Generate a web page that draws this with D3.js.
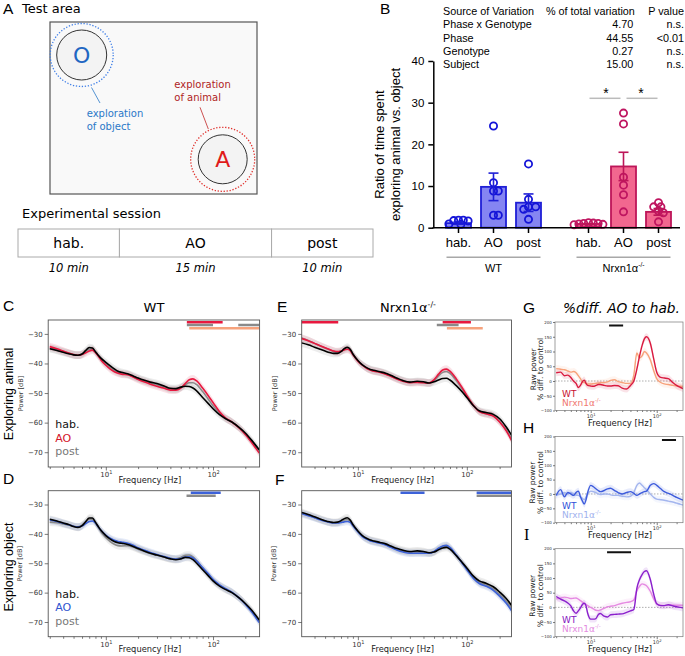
<!DOCTYPE html>
<html><head><meta charset="utf-8">
<script src="https://cdn.jsdelivr.net/npm/d3@7/dist/d3.min.js"></script>
<style>
html,body{margin:0;padding:0;background:#fff;}
svg{display:block;}
</style></head><body>
<svg id="fig" width="685" height="656" xmlns="http://www.w3.org/2000/svg"></svg>
<script>
// ---------------- DATA ----------------
// Panel A: session schedule
const sessionPhases = ["hab.", "AO", "post"];
const sessionMinutes = [10, 15, 10];

// Panel B: two-way RM ANOVA table
const anovaSources = ["Phase x Genotype", "Phase", "Genotype", "Subject"];
const anovaPct = ["4.70", "44.55", "0.27", "15.00"];
const anovaP = ["n.s.", "<0.01", "n.s.", "n.s."];

// Panel B: ratio of time exploring animal vs object
const phases = ["hab.", "AO", "post"];
const genotypes = ["WT", "KO"];
const wtMean = [1.1, 9.8, 6.0];
const wtSem = [0.3, 3.3, 2.1];
const koMean = [0.9, 14.7, 3.8];
const koSem = [0.1, 3.4, 0.8];
const wtPoints = [[1.8, 1.8, 1.7, 1.6, 0.9, 0.8], [24.4, 8.8, 8.8, 3.0, 3.0, 10.8], [15.3, 6.8, 5.0, 5.0, 4.4, 2.0]];
const koPoints = [[1.2, 1.1, 1.0, 1.0, 0.9, 0.8, 0.7], [27.5, 24.9, 12.1, 10.2, 7.9, 3.8], [6.0, 5.0, 5.0, 4.0, 3.6, 1.4]];
const yTicksB = [0, 10, 20, 30, 40];

// Panels C-I: frequency grid (Hz)
const freqs = [3,3.5,4,4.5,5,5.5,6,6.5,7,7.5, 8,8.5,9,10,11,12,13,14,16,18, 20,23,26,30,35,40,45,50,55,60, 65,70,80,90,100,115,130,150,175,200, 230,270];

// C: WT, exploring animal (power dB)
const cHab  = [-35.0,-35.6,-36.2,-36.7,-37.1,-37.2,-36.8,-35.6,-34.6,-34.8, -36.0,-37.2,-38.2,-39.6,-40.8,-41.8,-42.6,-43.0,-43.5,-44.2, -44.9,-45.7,-46.3,-46.8,-47.6,-48.4,-48.5,-48.0,-47.7,-47.8, -48.3,-49.2,-51.5,-53.5,-55.3,-57.3,-58.6,-59.8,-61.6,-63.5, -66.0,-69.2];
const cAO   = [-34.3,-35.0,-35.8,-36.5,-37.0,-37.2,-37.0,-36.4,-35.8,-35.5, -36.3,-37.5,-38.8,-40.6,-41.9,-42.8,-43.3,-43.6,-43.8,-44.6, -45.4,-46.3,-47.0,-47.7,-48.4,-49.0,-49.0,-48.3,-46.8,-45.5, -45.2,-45.8,-48.3,-50.8,-53.2,-56.3,-58.3,-59.8,-61.8,-64.0, -66.8,-70.3];
const cPost = [-34.8,-35.4,-36.0,-36.5,-37.0,-37.2,-36.9,-36.0,-35.2,-35.1, -36.0,-37.3,-38.5,-40.2,-41.4,-42.4,-43.0,-43.4,-43.7,-44.4, -45.1,-45.9,-46.6,-47.2,-48.0,-48.7,-48.8,-48.2,-47.2,-46.5, -46.5,-47.1,-49.5,-52.0,-54.3,-56.9,-58.5,-59.8,-61.7,-63.8, -66.4,-69.8];
// E: Nrxn1a-/-, exploring animal
const eHab  = [-33.0,-33.7,-34.5,-35.2,-35.8,-36.3,-36.6,-36.6,-36.0,-35.0, -34.5,-35.2,-36.8,-39.0,-40.5,-41.4,-42.0,-42.3,-42.8,-43.3, -44.0,-45.0,-45.8,-46.3,-46.0,-46.2,-46.6,-46.2,-45.6,-45.1, -45.0,-45.6,-47.5,-49.5,-51.5,-54.3,-56.0,-56.6,-57.2,-58.7, -61.5,-65.5];
const eAO   = [-31.5,-32.3,-33.2,-34.0,-34.7,-35.3,-35.8,-36.0,-35.8,-35.4, -35.2,-35.7,-37.0,-39.2,-40.6,-41.6,-42.2,-42.6,-43.0,-43.6, -44.3,-45.3,-46.0,-46.5,-46.4,-46.5,-46.6,-45.5,-43.6,-42.2, -41.9,-42.6,-45.2,-48.0,-50.8,-54.2,-56.3,-57.0,-57.8,-59.8, -62.8,-67.5];
const ePost = [-31.3,-32.2,-33.2,-34.0,-34.8,-35.4,-35.9,-36.1,-35.8,-35.3, -35.0,-35.5,-36.9,-39.1,-40.5,-41.5,-42.1,-42.5,-42.9,-43.5, -44.2,-45.2,-45.9,-46.4,-46.2,-46.4,-46.6,-45.8,-44.2,-43.0, -42.7,-43.3,-45.8,-48.5,-51.0,-54.2,-56.2,-57.0,-57.7,-59.6, -62.5,-67.0];
// D: WT, exploring object
const dHab  = [-35.0,-35.6,-36.3,-36.8,-37.5,-37.8,-37.2,-35.8,-34.6,-34.6, -36.0,-37.5,-38.8,-40.6,-41.8,-42.6,-43.0,-43.2,-43.6,-44.3, -45.0,-45.9,-46.6,-47.2,-47.9,-48.5,-48.8,-48.5,-48.0,-48.1, -48.8,-49.9,-52.2,-54.2,-56.0,-57.8,-58.9,-60.0,-61.8,-63.7, -66.0,-69.3];
const dAO   = [-35.3,-35.8,-36.4,-36.9,-37.4,-37.6,-37.3,-36.5,-35.8,-35.6, -36.3,-37.6,-38.8,-40.4,-41.5,-42.2,-42.6,-42.8,-43.2,-43.9, -44.7,-45.6,-46.3,-47.0,-47.7,-48.3,-48.6,-48.4,-47.9,-47.8, -48.2,-49.2,-51.5,-53.5,-55.5,-57.4,-58.6,-59.8,-61.8,-63.9, -66.6,-70.2];
const dPost = [-36.0,-36.2,-36.6,-37.0,-37.5,-37.7,-37.0,-35.9,-35.0,-35.0, -36.3,-37.8,-39.3,-41.2,-42.6,-43.5,-44.0,-44.1,-44.0,-44.5, -45.2,-46.0,-46.7,-47.3,-47.9,-48.4,-48.5,-48.0,-47.3,-47.2, -47.8,-49.0,-51.6,-53.8,-55.7,-57.5,-58.7,-59.9,-61.7,-63.7, -66.3,-69.8];
// F: Nrxn1a-/-, exploring object
const fHab  = [-32.6,-33.4,-34.2,-34.9,-35.5,-35.9,-36.1,-36.0,-35.5,-34.8, -34.5,-35.3,-36.8,-39.0,-40.6,-41.5,-42.1,-42.4,-42.9,-43.4, -44.1,-45.0,-45.6,-46.0,-45.8,-46.0,-46.4,-46.2,-45.4,-44.8, -44.6,-45.2,-47.4,-49.6,-51.6,-54.4,-56.0,-56.8,-58.0,-59.8, -62.0,-65.5];
const fAO   = [-33.0,-33.8,-34.5,-35.2,-35.7,-36.1,-36.3,-36.3,-36.1,-35.9, -35.8,-36.1,-37.2,-39.3,-40.9,-41.8,-42.4,-42.7,-43.2,-43.8, -44.6,-45.6,-46.2,-46.6,-46.6,-46.6,-46.6,-46.0,-44.9,-44.1, -43.9,-44.6,-47.2,-49.8,-52.2,-55.2,-56.9,-57.8,-59.2,-61.2, -63.6,-67.3];
const fPost = [-32.8,-33.6,-34.4,-35.0,-35.6,-36.0,-36.2,-36.2,-35.8,-35.3, -35.1,-35.7,-37.0,-39.1,-40.7,-41.6,-42.2,-42.5,-43.0,-43.6, -44.3,-45.3,-45.9,-46.3,-46.2,-46.3,-46.5,-46.1,-45.0,-44.3, -44.1,-44.8,-47.3,-49.7,-51.9,-54.8,-56.5,-57.4,-58.7,-60.6, -62.9,-66.6];
// G-I: % difference to hab.
const gWT = [28,30,18,20,12,0,-8,-22,-15,-2, 3,-8,-15,-17,-18,-15,-12,-12,-15,-17, -17,-15,-16,-24,-27,-15,0,40,85,120, 143,150,128,75,30,12,10,8,-5,-15, -22,-28];
const gKO = [42,40,38,34,30,32,28,18,8,-3, -5,-8,-10,-10,-9,-8,-7,-6,-5,-3, 2,4,-2,-5,-8,-8,20,95,78,85, 100,95,72,35,8,-5,-10,-12,-15,-17, -18,-19];
const hWT = [-5,15,-10,5,0,-5,5,10,-10,-25, -35,-20,5,30,25,18,12,8,12,18, 20,12,5,0,5,8,2,-5,0,5, 8,10,30,36,30,18,8,2,-5,-12, -18,-24];
const hKO = [-5,0,5,0,5,0,-5,-5,-10,-15, -20,-10,0,10,8,5,0,-2,0,0, -3,-5,-5,-8,-10,-8,5,30,38,30, 22,15,0,-12,-18,-20,-22,-25,-28,-32, -36,-40];
const iWT = [37,28,22,15,5,-12,-20,-12,-2,10, 14,5,-20,-40,-40,-38,-25,-21,-30,-33, -25,-24,-23,-22,-17,-12,-7,65,95,112, 122,125,95,45,12,6,6,9,5,2, 0,-3];
const iKO = [29,32,35,33,30,31,32,28,23,18, 13,10,6,0,-5,-10,-11,-9,-3,2, 4,6,10,14,17,19,25,57,72,80, 78,74,55,29,12,7,6,8,8,7, 7,6];

// significance ranges (Hz)
const sigC_AO = [[57, 123]], sigC_post = [[57, 100], [172, 272]], sigC_AOpost = [[60, 272]];
const sigE_AO = [[3, 6.6], [60, 109]], sigE_post = [[53, 84]], sigE_AOpost = [[65.6, 140]];
const sigD_AO = [[62, 118]], sigD_post = [[56.6, 106]];
const sigF_AO = [[24.6, 40.9], [123, 272]], sigF_post = [[123, 272]];
const sigG = [[19, 31]], sigH = [[120, 196]], sigI = [[17.7, 40.8]];

const psdTicksY = [-30, -40, -50, -60, -70];
const diffTicksY = [200, 150, 100, 50, 0, -50, -100];

// ---------------- DRAWING ----------------
const DV = "'DejaVu Sans', Verdana, sans-serif";
const AR = "'Liberation Sans', Arial, Helvetica, sans-serif";
const SERIF = "'Liberation Serif', 'DejaVu Serif', serif";
const svg = d3.select("#fig");
const defs = svg.append("defs");
let clipN = 0;

function txt(g, x, y, s, size, o = {}) {
  const t = g.append("text").attr("x", x).attr("y", y).attr("font-size", size)
    .attr("font-family", o.family || DV).attr("fill", o.fill || "#000")
    .attr("text-anchor", o.anchor || "start");
  if (o.italic) t.attr("font-style", "italic");
  if (o.rotate) t.attr("transform", `rotate(-90,${x},${y})`);
  t.text(s);
  return t;
}
function koLabel(g, x, y, size, o = {}) {
  const t = txt(g, x, y, "Nrxn1α", size, o);
  t.append("tspan").attr("dy", -size * 0.42).attr("font-size", size * 0.6).text("-/-");
  return t;
}

// ===== Panel A =====
const gA = svg.append("g");
txt(gA, 3, 13.5, "A", 15.5, {family: AR});
txt(gA, 22, 13, "Test area", 13);
gA.append("rect").attr("x", 50).attr("y", 22).attr("width", 207).attr("height", 172)
  .attr("fill", "#f9f9f9").attr("stroke", "#555").attr("stroke-width", 1.2);
gA.append("circle").attr("cx", 81.7).attr("cy", 55).attr("r", 25).attr("fill", "#f3f3f3").attr("stroke", "#333").attr("stroke-width", 1);
gA.append("circle").attr("cx", 81.7).attr("cy", 55).attr("r", 31.5).attr("fill", "none").attr("stroke", "#3f7fe8").attr("stroke-width", 1.3).attr("stroke-dasharray", "1.3,1.7");
txt(gA, 81.7, 63, "O", 22, {anchor: "middle", fill: "#1f66c2"});
gA.append("line").attr("x1", 91.5).attr("y1", 87.5).attr("x2", 100).attr("y2", 103).attr("stroke", "#2a78c8").attr("stroke-width", 0.8);
txt(gA, 86.7, 117.3, "exploration", 10, {fill: "#2a78c8"});
txt(gA, 86.7, 130, "of object", 10, {fill: "#2a78c8"});
gA.append("circle").attr("cx", 222.7).attr("cy", 159.3).attr("r", 24.5).attr("fill", "#f3f3f3").attr("stroke", "#333").attr("stroke-width", 1);
gA.append("circle").attr("cx", 222.7).attr("cy", 159.3).attr("r", 32).attr("fill", "none").attr("stroke", "#e0302c").attr("stroke-width", 1.3).attr("stroke-dasharray", "1.3,1.7");
txt(gA, 222.7, 167.3, "A", 22, {anchor: "middle", fill: "#e01a1a"});
gA.append("line").attr("x1", 200).attr("y1", 107.3).attr("x2", 208.3).attr("y2", 129).attr("stroke", "#c02626").attr("stroke-width", 0.8);
txt(gA, 174.3, 88.3, "exploration", 10, {fill: "#b01e1e"});
txt(gA, 174.3, 100.7, "of animal", 10, {fill: "#b01e1e"});
txt(gA, 22, 218, "Experimental session", 13);
const xs = d3.scaleLinear().domain([0, d3.sum(sessionMinutes)]).range([18, 373]);
const cum = d3.cumsum(sessionMinutes);
sessionPhases.forEach((p, i) => {
  const s = i ? cum[i - 1] : 0, e = cum[i];
  gA.append("rect").attr("x", xs(s)).attr("y", 229).attr("width", xs(e) - xs(s)).attr("height", 28)
    .attr("fill", "#fff").attr("stroke", "#aaa").attr("stroke-width", 1);
  txt(gA, (xs(s) + xs(e)) / 2, 248, p, 14, {anchor: "middle"});
  txt(gA, (xs(s) + xs(e)) / 2, 272, sessionMinutes[i] + " min", 11.5, {anchor: "middle", italic: true});
});

// ===== Panel B =====
const gB = svg.append("g");
txt(gB, 380, 13.5, "B", 15.5, {family: AR});
const tf = 10.8;
txt(gB, 443, 15, "Source of Variation", tf, {family: AR});
txt(gB, 546, 15, "% of total variation", tf, {family: AR});
txt(gB, 684, 15, "P value", tf, {family: AR, anchor: "end"});
anovaSources.forEach((s, i) => {
  const y = 28.3 + i * 13.35;
  txt(gB, 443, y, s, tf, {family: AR});
  txt(gB, 633.3, y, anovaPct[i], tf, {family: AR, anchor: "end"});
  txt(gB, 684, y, anovaP[i], tf, {family: AR, anchor: "end"});
});
const yB = d3.scaleLinear().domain([0, 40]).range([227.7, 61]);
const xG = d3.scalePoint().domain(genotypes).range([493.5, 623.5]);
const xP = d3.scalePoint().domain(phases).range([-35, 35]);
const barW = 25;
const bStyle = {
  WT: {fill: "#8585f2", stroke: "#1f1fd6", pt: "#1414d8"},
  KO: {fill: "#f2678f", stroke: "#bd1659", pt: "#bf1560"}
};
const bData = {WT: {m: wtMean, s: wtSem, p: wtPoints}, KO: {m: koMean, s: koSem, p: koPoints}};
genotypes.forEach(gn => {
  const st = bStyle[gn], dd = bData[gn];
  phases.forEach((ph, i) => {
    const cx = xG(gn) + xP(ph);
    gB.append("rect").attr("x", cx - barW / 2).attr("y", yB(dd.m[i])).attr("width", barW)
      .attr("height", yB(0) - yB(dd.m[i])).attr("fill", st.fill).attr("stroke", st.stroke).attr("stroke-width", 1.8);
  });
});
function swarm(vals, cx) {
  const D = 4.8, placed = [];
  const order = vals.map((v, i) => i).sort((a, b) => vals[b] - vals[a]);
  order.forEach(i => {
    const py = yB(vals[i]);
    for (let k = 0; k < 40; k++) {
      const off = (k % 2 ? 1 : -1) * Math.ceil(k / 2) * D * 0.5 * (k ? 1 : 0);
      const px = cx + off;
      if (placed.every(q => (q.x - px) ** 2 + (q.y - py) ** 2 >= D * D)) { placed.push({x: px, y: py}); break; }
    }
  });
  return placed;
}
genotypes.forEach(gn => {
  const st = bStyle[gn], dd = bData[gn];
  phases.forEach((ph, i) => {
    const cx = xG(gn) + xP(ph);
    swarm(dd.p[i], cx).forEach(q => {
      gB.append("circle").attr("cx", q.x).attr("cy", q.y).attr("r", 3.6)
        .attr("fill", "none").attr("stroke", st.pt).attr("stroke-width", 1.8);
    });
    const lo = dd.m[i] - dd.s[i], hi = dd.m[i] + dd.s[i];
    const eg = gB.append("g").attr("stroke", st.stroke).attr("stroke-width", 1.6);
    eg.append("line").attr("x1", cx).attr("x2", cx).attr("y1", yB(lo)).attr("y2", yB(hi));
    eg.append("line").attr("x1", cx - 5).attr("x2", cx + 5).attr("y1", yB(hi)).attr("y2", yB(hi));
    eg.append("line").attr("x1", cx - 5).attr("x2", cx + 5).attr("y1", yB(lo)).attr("y2", yB(lo));
  });
});
const axYB = gB.append("g").attr("transform", "translate(433.3,0)")
  .call(d3.axisLeft(yB).tickValues(yTicksB).tickSize(5).tickSizeOuter(0));
axYB.selectAll("path,line").attr("stroke", "#000").attr("stroke-width", 1.5);
axYB.selectAll("text").attr("font-family", AR).attr("font-size", 11.5).attr("fill", "#000").attr("dx", -1);
gB.append("line").attr("x1", 432.5).attr("x2", 680).attr("y1", 227.7).attr("y2", 227.7).attr("stroke", "#000").attr("stroke-width", 1.5);
genotypes.forEach(gn => {
  phases.forEach(ph => {
    const cx = xG(gn) + xP(ph);
    gB.append("line").attr("x1", cx).attr("x2", cx).attr("y1", 227.7).attr("y2", 233).attr("stroke", "#000").attr("stroke-width", 1.5);
    txt(gB, cx, 246.5, ph, 13, {family: AR, anchor: "middle"});
  });
  gB.append("line").attr("x1", xG(gn) - 47).attr("x2", xG(gn) + 47).attr("y1", 257.3).attr("y2", 257.3)
    .attr("stroke", "#a8a8a8").attr("stroke-width", 1.5);
});
txt(gB, xG("WT"), 272, "WT", 11, {family: AR, anchor: "middle"});
koLabel(gB, xG("KO"), 272, 11, {family: AR, anchor: "middle"});
txt(gB, 384, 144.5, "Ratio of time spent", 13, {family: AR, anchor: "middle", rotate: true});
txt(gB, 399.5, 144.5, "exploring animal vs. object", 13, {family: AR, anchor: "middle", rotate: true});
[["hab.", "AO"], ["AO", "post"]].forEach(([a, b]) => {
  const x1 = xG("KO") + xP(a) + 1, x2 = xG("KO") + xP(b) - 1;
  const mx = (x1 + x2) / 2;
  gB.append("line").attr("x1", x1 + (a === "hab." ? 0 : 2)).attr("x2", x2 - (a === "hab." ? 2 : 0)).attr("y1", 98.3).attr("y2", 98.3)
    .attr("stroke", "#bbb").attr("stroke-width", 1.5);
  txt(gB, mx, 97.5, "*", 14, {family: AR, anchor: "middle"});
});

// ===== PSD panels =====
function logAxis(g, x, yPos, fs, supFs, len) {
  const [d0, d1] = x.domain();
  const minor = [];
  [1, 10, 100].forEach(dec => { for (let k = 2; k <= 9; k++) { const v = k * dec; if (v >= d0 && v <= d1) minor.push(v); } });
  const ax1 = g.append("g").attr("transform", `translate(0,${yPos})`)
    .call(d3.axisBottom(x).tickValues(minor).tickSize(len * 0.6).tickFormat(""));
  const ax2 = g.append("g").attr("transform", `translate(0,${yPos})`)
    .call(d3.axisBottom(x).tickValues([10, 100]).tickSize(len).tickPadding(1.5).tickFormat(() => "10"));
  [ax1, ax2].forEach(a => { a.select(".domain").remove(); a.selectAll("line").attr("stroke", "#444").attr("stroke-width", 0.7); });
  ax2.selectAll("text").attr("font-family", DV).attr("font-size", fs).attr("fill", "#333")
    .each(function (d) { d3.select(this).append("tspan").attr("dy", -fs * 0.45).attr("font-size", supFs).text(Math.round(Math.log10(d))); });
}
function yAxis(g, y, xPos, ticks, fs, len, pad) {
  const a = g.append("g").attr("transform", `translate(${xPos},0)`)
    .call(d3.axisLeft(y).tickValues(ticks).tickSize(len).tickPadding(pad));
  a.select(".domain").remove();
  a.selectAll("line").attr("stroke", "#444").attr("stroke-width", 0.7);
  a.selectAll("text").attr("font-family", DV).attr("font-size", fs).attr("fill", "#333");
}

function drawPSD(box, xDom, series, sigs, opt) {
  const g = svg.append("g");
  const x = d3.scaleLog().domain(xDom).range([box.x0, box.x1]);
  const y = d3.scaleLinear().domain([-75, -25.3]).range([box.y1, box.y0]);
  const id = "clip" + (clipN++);
  defs.append("clipPath").attr("id", id).append("rect")
    .attr("x", box.x0).attr("y", box.y0).attr("width", box.x1 - box.x0).attr("height", box.y1 - box.y0);
  g.append("rect").attr("x", box.x0).attr("y", box.y0).attr("width", box.x1 - box.x0).attr("height", box.y1 - box.y0).attr("fill", "#fff");
  const pg = g.append("g").attr("clip-path", `url(#${id})`);
  const band = 1.3;
  series.forEach(s => {
    const ar = d3.area().x((d, i) => x(freqs[i])).y0(d => y(d - band)).y1(d => y(d + band)).curve(d3.curveMonotoneX);
    pg.append("path").datum(s.vals).attr("d", ar).attr("fill", s.band).attr("opacity", 0.16);
  });
  series.forEach(s => {
    const ln = d3.line().x((d, i) => x(freqs[i])).y(d => y(d)).curve(d3.curveMonotoneX);
    pg.append("path").datum(s.vals).attr("d", ln).attr("fill", "none").attr("stroke", s.color).attr("stroke-width", 1.6);
  });
  sigs.forEach(sg => sg.ranges.forEach(r => {
    pg.append("line").attr("x1", x(r[0])).attr("x2", x(r[1])).attr("y1", box.y0 + sg.off).attr("y2", box.y0 + sg.off)
      .attr("stroke", sg.color).attr("stroke-width", 2.6);
  }));
  g.append("rect").attr("x", box.x0).attr("y", box.y0).attr("width", box.x1 - box.x0).attr("height", box.y1 - box.y0)
    .attr("fill", "none").attr("stroke", "#555").attr("stroke-width", 0.9);
  logAxis(g, x, box.y1, 7, 5, 3.5);
  yAxis(g, y, box.x0, psdTicksY, 7, 3.5, 2);
  txt(g, (box.x0 + box.x1) / 2 - 4, box.y1 + 15.5, "Frequency [Hz]", 8.3, {anchor: "middle", fill: "#222"});
  txt(g, opt.pwrX, (box.y0 + box.y1) / 2, "Power [dB]", 6.5, {anchor: "middle", rotate: true, fill: "#333"});
  if (opt.legend) {
    opt.legend.forEach((l, i) => txt(g, box.x0 + 7, box.y1 - 39 + i * 13.5, l.t, 11, {fill: l.c}));
  }
  return g;
}
const RED = "#e8183f", GRAY = "#8a8a8a", ORANGE = "#f6a27c", BLUE = "#3d62d9";
const boxC = {x0: 48.2, x1: 259.6, y0: 320, y1: 467};
const boxD = {x0: 48.2, x1: 259.6, y0: 490.7, y1: 636.7};
const boxE = {x0: 301.7, x1: 511.5, y0: 320, y1: 467};
const boxF = {x0: 301.7, x1: 511.5, y0: 490.7, y1: 636.7};
const domCD = [2.9, 272], domEF = [3.05, 257];

drawPSD(boxC, domCD,
  [{vals: cPost, color: GRAY, band: "#999"}, {vals: cAO, color: RED, band: "#e05070"}, {vals: cHab, color: "#000", band: "#888"}],
  [{ranges: sigC_AO, color: RED, off: 2.3}, {ranges: sigC_post, color: GRAY, off: 5}, {ranges: sigC_AOpost, color: ORANGE, off: 8.3}],
  {pwrX: 22.5, legend: [{t: "hab.", c: "#111"}, {t: "AO", c: "#d4142a"}, {t: "post", c: "#777"}]});
drawPSD(boxE, domEF,
  [{vals: ePost, color: GRAY, band: "#999"}, {vals: eAO, color: RED, band: "#e05070"}, {vals: eHab, color: "#000", band: "#888"}],
  [{ranges: sigE_AO, color: RED, off: 2.3}, {ranges: sigE_post, color: GRAY, off: 5}, {ranges: sigE_AOpost, color: ORANGE, off: 8.3}],
  {pwrX: 277});
drawPSD(boxD, domCD,
  [{vals: dPost, color: GRAY, band: "#999"}, {vals: dAO, color: BLUE, band: "#6080d8"}, {vals: dHab, color: "#000", band: "#888"}],
  [{ranges: sigD_AO, color: BLUE, off: 2}, {ranges: sigD_post, color: GRAY, off: 5}],
  {pwrX: 22.5, legend: [{t: "hab.", c: "#111"}, {t: "AO", c: "#2f55d0"}, {t: "post", c: "#777"}]});
drawPSD(boxF, domEF,
  [{vals: fPost, color: GRAY, band: "#999"}, {vals: fAO, color: BLUE, band: "#6080d8"}, {vals: fHab, color: "#000", band: "#888"}],
  [{ranges: sigF_AO, color: BLUE, off: 2}, {ranges: sigF_post, color: GRAY, off: 5}],
  {pwrX: 276});

const gT = svg.append("g");
txt(gT, 3, 310.7, "C", 15.5, {family: AR});
txt(gT, 277, 311.5, "E", 15.5, {family: AR});
txt(gT, 3, 483.5, "D", 15.5, {family: AR});
txt(gT, 275, 485, "F", 15.5, {family: AR});
txt(gT, 523, 313.3, "G", 15.5, {family: AR});
txt(gT, 523, 433, "H", 15.5, {family: AR});
txt(gT, 524, 540, "I", 16, {family: SERIF});
txt(gT, 154, 312, "WT", 13, {anchor: "middle"});
koLabel(gT, 408, 312, 13, {anchor: "middle"});
txt(gT, 621.5, 313, "%diff. AO to hab.", 13.7, {anchor: "middle", italic: true});
txt(gT, 12.5, 394, "Exploring animal", 12.5, {family: AR, anchor: "middle", rotate: true});
txt(gT, 12.5, 567, "Exploring object", 12.5, {family: AR, anchor: "middle", rotate: true});

// ===== Diff panels G-I =====
function drawDiff(box, series, sig, legend) {
  const g = svg.append("g");
  const x = d3.scaleLog().domain([2.88, 250]).range([box.x0, box.x1]);
  const y = d3.scaleLinear().domain([-100, 200]).range([box.y1, box.y0]);
  const id = "clip" + (clipN++);
  defs.append("clipPath").attr("id", id).append("rect")
    .attr("x", box.x0).attr("y", box.y0).attr("width", box.x1 - box.x0).attr("height", box.y1 - box.y0);
  const pg = g.append("g").attr("clip-path", `url(#${id})`);
  pg.append("line").attr("x1", box.x0).attr("x2", box.x1).attr("y1", y(0)).attr("y2", y(0))
    .attr("stroke", "#999").attr("stroke-width", 0.8).attr("stroke-dasharray", "1.5,1.5");
  const band = 12;
  series.forEach(s => {
    const ar = d3.area().x((d, i) => x(freqs[i])).y0(d => y(d - band)).y1(d => y(d + band)).curve(d3.curveMonotoneX);
    pg.append("path").datum(s.vals).attr("d", ar).attr("fill", s.color).attr("opacity", 0.12);
  });
  series.forEach(s => {
    const ln = d3.line().x((d, i) => x(freqs[i])).y(d => y(d)).curve(d3.curveMonotoneX);
    pg.append("path").datum(s.vals).attr("d", ln).attr("fill", "none").attr("stroke", s.color).attr("stroke-width", 1.4);
  });
  sig.forEach(r => pg.append("line").attr("x1", x(r[0])).attr("x2", x(r[1])).attr("y1", box.y0 + 3.5).attr("y2", box.y0 + 3.5)
    .attr("stroke", "#111").attr("stroke-width", 2));
  g.append("rect").attr("x", box.x0).attr("y", box.y0).attr("width", box.x1 - box.x0).attr("height", box.y1 - box.y0)
    .attr("fill", "none").attr("stroke", "#777").attr("stroke-width", 0.7);
  logAxis(g, x, box.y1, 5, 3.8, 2.5);
  yAxis(g, y, box.x0, diffTicksY, 4, 2, 1.2);
  txt(g, 620, box.y1 + 15.5, "Frequency [Hz]", 8.5, {anchor: "middle", fill: "#222"});
  const cy = (box.y0 + box.y1) / 2 + 3;
  txt(g, 535.5, cy, "Raw power", 7.6, {anchor: "middle", rotate: true, fill: "#222"});
  txt(g, 543.2, cy, "% diff. to control", 7.6, {anchor: "middle", rotate: true, fill: "#222"});
  txt(g, box.x0 + 7, box.y1 - 14, "WT", 9, {fill: legend[0]});
  koLabel(g, box.x0 + 7, box.y1 - 4.5, 9, {fill: legend[1]});
}
drawDiff({x0: 555, x1: 683, y0: 322, y1: 410.5},
  [{vals: gKO, color: "#f7a17a"}, {vals: gWT, color: "#d91a3f"}], sigG, ["#c8102e", "#f07870"]);
drawDiff({x0: 555, x1: 683, y0: 436.5, y1: 522.7},
  [{vals: hKO, color: "#a3b5ee"}, {vals: hWT, color: "#3d5bdc"}], sigH, ["#2f4fd8", "#9fb2ee"]);
drawDiff({x0: 555, x1: 683, y0: 548.7, y1: 636.7},
  [{vals: iKO, color: "#e58ae2"}, {vals: iWT, color: "#8a1fcc"}], sigI, ["#8414c0", "#e38ae0"]);
</script></body></html>
